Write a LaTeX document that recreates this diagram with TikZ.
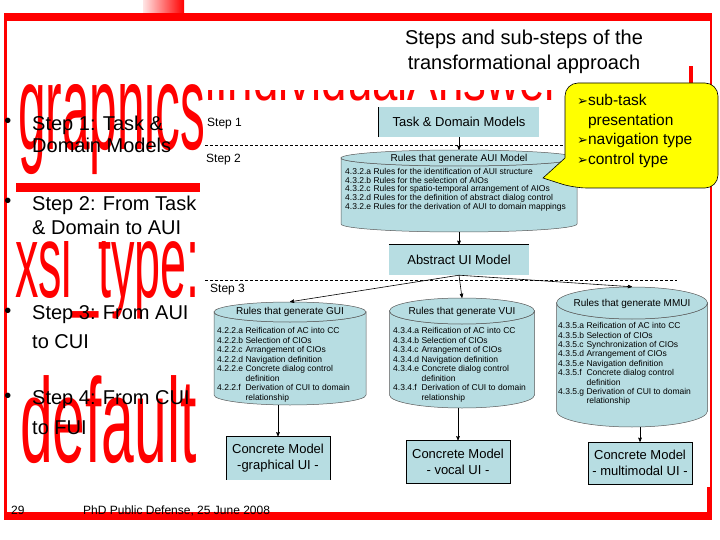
\documentclass[tikz,border=0pt]{standalone}
\usepackage{fontspec}
\setmainfont{Liberation Sans}
\newfontfamily\dingfont{DejaVu Sans}
\usepackage{tikz}
\usetikzlibrary{arrows,arrows.meta,positioning}
\definecolor{boxblue}{RGB}{183,221,226}
\definecolor{calloutyellow}{RGB}{255,255,0}
\tikzset{
    water/.style={
        text=red,
        font=\fontsize{#1}{#1}\selectfont,
        anchor=base west,
        inner sep=0pt
    },
    model box/.style={
        fill=boxblue,
        align=center,
        inner sep=0pt,
        font=\fontsize{13}{16}\selectfont
    },
    cyl frame/.style={
        rectangle,
        inner sep=0pt
    },
    cyl line/.style={
        draw=black!65,
        line width=0.5pt,
        fill=boxblue
    },
    rules title/.style={
        font=\fontsize{10}{12}\selectfont,
        inner sep=0pt
    },
    rules list/.style={
        font=\fontsize{8.5}{#1}\selectfont,
        anchor=north west,
        inner sep=0pt
    },
    step label/.style={
        font=\fontsize{12}{14}\selectfont,
        anchor=west,
        inner sep=0pt
    },
    step line/.style={
        dashed,
        dash pattern=on 3pt off 2pt,
        line width=0.6pt
    },
    bullet text/.style={
        font=\fontsize{20}{#1}\selectfont,
        anchor=north west,
        align=left,
        inner sep=0pt
    },
    bullet dot/.style={
        font=\fontsize{20}{24}\selectfont,
        inner sep=0pt
    },
    flow/.style={
        -stealth',
        line width=0.6pt
    },
    callout/.style={
        fill=calloutyellow,
        draw=black,
        line width=0.6pt
    }
}
% name, centre x, centre y, width, height, cap radius
\newcommand{\rulescyl}[6]{%
  \node[cyl frame, minimum width=#4pt, minimum height=#5pt] (#1) at (#2,#3) {};
  \filldraw[cyl line] (#2-#4/2,#3-#5/2+#6) -- (#2-#4/2,#3+#5/2-#6)
    arc[start angle=180, end angle=0, x radius=#4/2, y radius=#6]
    -- (#2+#4/2,#3-#5/2+#6)
    arc[start angle=0, end angle=180, x radius=#4/2, y radius=#6] -- cycle;
  \filldraw[cyl line] (#2,#3-#5/2+#6) ellipse[x radius=#4/2, y radius=#6];
}

\begin{document}
\begin{tikzpicture}[x=1pt,y=-1pt]
\useasboundingbox (0,0) rectangle (720,540);

% red leftovers behind the slide
\begin{scope}
  \clip (10,84) rectangle (202,183) (202,90) rectangle (700,102)
        (10,241) rectangle (206,330) (10,370) rectangle (206,470);
  \node[water=121, xscale=.41] (wgraph) at (18,150) {graphics};
  \node[water=60, xscale=.76] (windiv) at (205,101) {lIndividualAnswer};
  \node[water=104, xscale=.45] (wxsl) at (15,297) {xsl\_type:};
  \node[water=120, xscale=.49] (wdef) at (20,462) {default};
\end{scope}
\fill[red] (16,183) rectangle (200,192);
\fill[red] (689,66) rectangle (693,84);

% frame
\shade[left color=red!10, right color=red] (143,0) rectangle (184,13);
\fill[red] (4,13) rectangle (712,21);
\fill[red] (4,13) rectangle (7,520);
\fill[red] (4,512) rectangle (712,520);
\fill[red] (710,13) rectangle (712,520);
\fill[red] (707,487) rectangle (712,520);

\node[align=center, inner sep=0pt, font=\fontsize{20}{25}\selectfont] (title) at (524,52)
  {Steps and sub-steps of the\\transformational approach};

% steps
\coordinate (div1w) at (205,145);
\coordinate (div1e) at (566,145);
\coordinate (div2w) at (205,280);
\coordinate (div2e) at (677,280);
\draw[step line] (div1w) -- (div1e);
\draw[step line] (div2w) -- (div2e);
\node[step label] (s1) at (207,124) {Step 1};
\node[step label, below right=9pt and 1pt of div1w, anchor=north west] (s2) {Step 2};
\node[step label, below right=4pt and 5pt of div2w, anchor=north west] (s3) {Step 3};

% step 1 and 2
\node[model box, minimum width=160pt, minimum height=30pt] (task) at (459,122) {Task \& Domain Models};
\draw[line width=0.8pt] (task.south west) -- (task.north west);
\rulescyl{aui}{459}{191}{236}{82}{8}
\node[rules title] (auit) at (459,158.5) {Rules that generate AUI Model};
\node[rules list=8.5] (auil) at (345,168) {\begin{tabular}{@{}l@{\ }l@{}}
  4.3.2.a & Rules for the identification of AUI structure\\
  4.3.2.b & Rules for the selection of AIOs\\
  4.3.2.c & Rules for spatio-temporal arrangement of AIOs\\
  4.3.2.d & Rules for the definition of abstract dialog control\\
  4.3.2.e & Rules for the derivation of AUI to domain mappings
\end{tabular}};
\node[model box, minimum width=140pt, minimum height=30pt] (abs) at (459,260) {Abstract UI Model};
\draw[line width=0.8pt] (abs.north west) -- (abs.north east);
\draw[flow] (task) -- (aui);
\draw[flow] (aui) -- (abs);

% step 3
\rulescyl{gui}{290}{353.5}{152}{103}{10}
\node[rules title] (guit) at (290,312) {Rules that generate GUI};
\node[rules list=9.5] (guil) at (217,327) {\begin{tabular}{@{}l@{\ }l@{}}
  4.2.2.a & Reification of AC into CC\\
  4.2.2.b & Selection of CIOs\\
  4.2.2.c & Arrangement of CIOs\\
  4.2.2.d & Navigation definition\\
  4.2.2.e & Concrete dialog control\\
          & definition\\
  4.2.2.f & Derivation of CUI to domain\\
          & relationship
\end{tabular}};
\rulescyl{vui}{462}{353}{145}{110}{13}
\node[rules title] (vuit) at (462,312) {Rules that generate VUI};
\node[rules list=9.5] (vuil) at (393,327) {\begin{tabular}{@{}l@{\ }l@{}}
  4.3.4.a & Reification of AC into CC\\
  4.3.4.b & Selection of CIOs\\
  4.3.4.c & Arrangement of CIOs\\
  4.3.4.d & Navigation definition\\
  4.3.4.e & Concrete dialog control\\
          & definition\\
  4.3.4.f & Derivation of CUI to domain\\
          & relationship
\end{tabular}};
\rulescyl{mmui}{632}{357}{151}{140}{16}
\node[rules title] (mmuit) at (632,304) {Rules that generate MMUI};
\node[rules list=9.4] (mmuil) at (558,322) {\begin{tabular}{@{}l@{\ }l@{}}
  4.3.5.a & Reification of AC into CC\\
  4.3.5.b & Selection of CIOs\\
  4.3.5.c & Synchronization of CIOs\\
  4.3.5.d & Arrangement of CIOs\\
  4.3.5.e & Navigation definition\\
  4.3.5.f & Concrete dialog control\\
          & definition\\
  4.3.5.g & Derivation of CUI to domain\\
          & relationship
\end{tabular}};
\draw[flow] (abs.south) -- (gui.north);
\draw[flow] (abs.south) -- (vui.north);
\draw[flow] (abs.south) -- (mmui.north);

% step 4
\node[model box, minimum width=104pt, minimum height=43pt] (cgui) at (278,458) {Concrete Model\\-graphical UI -};
\draw (cgui.south west) |- (cgui.north east) -- (cgui.south east);
\node[model box, draw, minimum width=104pt, minimum height=43pt] (cvui) at (458,462) {Concrete Model\\- vocal UI -};
\node[model box, draw, minimum width=104pt, minimum height=42pt] (cmmui) at (640,463) {Concrete Model\\- multimodal UI -};
\draw[flow] (gui.south -| cgui.north) -- (cgui.north);
\draw[flow] (vui.south -| cvui.north) -- (cvui.north);
\draw[flow] (mmui.south -| cmmui.north) -- (cmmui.north);

% callout
\draw[callout] (565,130) [rounded corners=13pt] -- (565,83) -- (718,83) -- (718,188) -- (574,188)
  [sharp corners] -- (543,178) -- (565,158) -- cycle;
\node[anchor=north west, inner sep=0pt, font=\fontsize{15.5}{19.5}\selectfont] (notes) at (577,92)
  {\begin{tabular}{@{}l@{}l@{}}
    {\dingfont\fontsize{13}{19.5}\selectfont ➢} & sub-task\\
     & presentation\\
    {\dingfont\fontsize{13}{19.5}\selectfont ➢} & navigation type\\
    {\dingfont\fontsize{13}{19.5}\selectfont ➢} & control type
  \end{tabular}};

% left column
\node[bullet dot] (b1) at (8,123) {•};
\node[bullet text=22] (st1) at (32,115.5) {Step 1: Task \&\\Domain Models};
\node[bullet dot] (b2) at (8,203) {•};
\node[bullet text=24] (st2) at (32,195.5) {Step 2: From Task\\\& Domain to AUI};
\node[bullet dot] (b3) at (8,313) {•};
\node[bullet text=29] (st3) at (32,305.5) {Step 3: From AUI\\to CUI};
\node[bullet dot] (b4) at (8,398) {•};
\node[bullet text=30] (st4) at (32,390.5) {Step 4: From CUI\\to FUI};

% footer
\node[anchor=base west, inner sep=0pt, font=\fontsize{12}{14}\selectfont] (pagenum) at (11,514) {29};
\node[anchor=base west, inner sep=0pt, font=\fontsize{12}{14}\selectfont] (footer) at (83,514) {PhD Public Defense, 25 June 2008};
\end{tikzpicture}
\end{document}
